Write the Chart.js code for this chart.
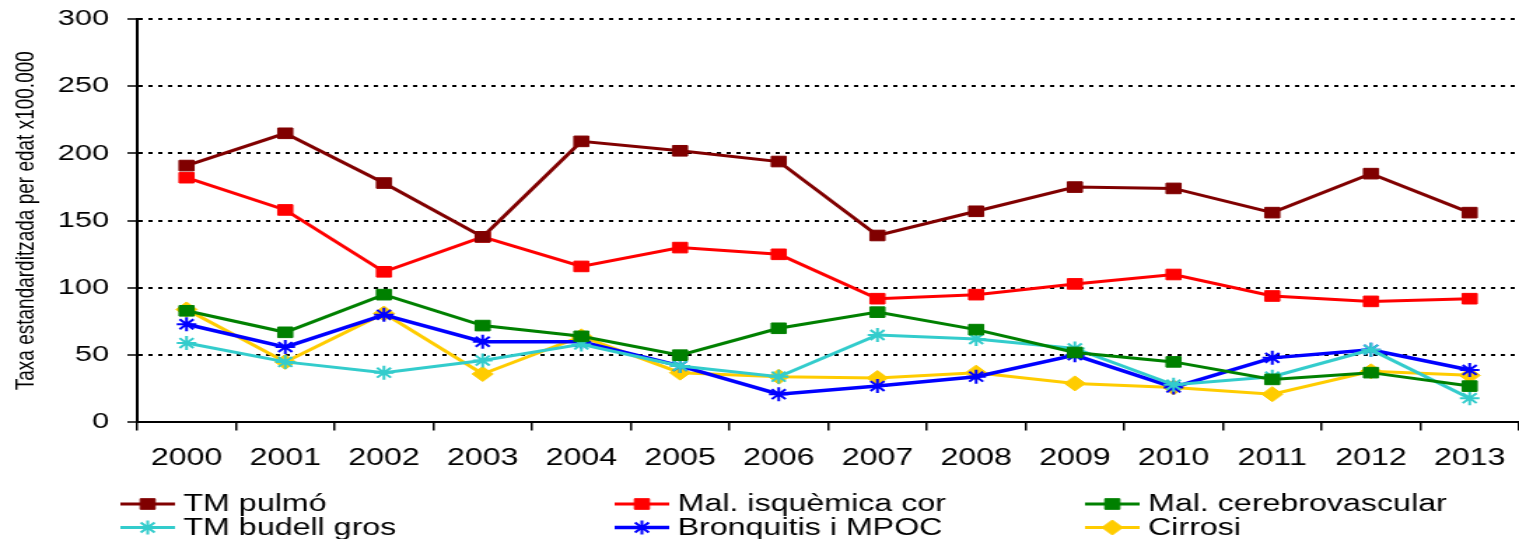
<!DOCTYPE html>
<html>
<head>
<meta charset="utf-8">
<script src="https://cdn.jsdelivr.net/npm/chart.js@4/dist/chart.umd.min.js"></script>
<style>
    html, body { margin: 0; padding: 0; background: #fff; overflow: hidden; }
    /* the chart is drawn narrow and stretched sideways, like the original export */
    #wrap { width: 1085px; height: 539px; transform: scaleX(1.4); transform-origin: 0 0; }
</style>
</head>
<body>
<div id="wrap"><canvas id="mortChart"></canvas></div>
<script>
// Anys
const years = ['2000', '2001', '2002', '2003', '2004', '2005', '2006', '2007', '2008', '2009', '2010', '2011', '2012', '2013'];

// Taxes estandarditzades per edat (x100.000)
const tmPulmo = [191, 215, 178, 138, 209, 202, 194, 139, 157, 175, 174, 156, 185, 156];
const malIsquemica = [182, 158, 112, 138, 116, 130, 125, 92, 95, 103, 110, 94, 90, 92];
const malCerebro = [83, 67, 95, 72, 64, 50, 70, 82, 69, 52, 45, 32, 37, 27];
const tmBudell = [59, 45, 37, 46, 58, 42, 34, 65, 62, 55, 28, 34, 54, 18];
const bronquitis = [73, 56, 80, 60, 60, 42, 21, 27, 34, 50, 26, 48, 54, 39];
const cirrosi = [84, 45, 81, 36, 64, 37, 34, 33, 37, 29, 26, 21, 38, 35];

const yTicks = [0, 50, 100, 150, 200, 250, 300];

const FONT = '"Liberation Sans", Arial, sans-serif';

function serie(label, data, color, style, radius, width) {
    return {
        label: label,
        data: data,
        borderColor: color,
        backgroundColor: color,
        borderWidth: width,
        pointStyle: style,
        pointRadius: radius,
        pointHoverRadius: radius,
        pointBackgroundColor: color,
        pointBorderColor: color,
        pointBorderWidth: style === 'star' ? 2 : 1,
        tension: 0,
        clip: false
    };
}

// Llegenda en graella de 3 columnes sota el gràfic
const legendCols = [86, 439, 775];
const legendRows = [504, 527.5];
const gridLegend = {
    id: 'gridLegend',
    afterDraw(chart) {
        const ctx = chart.ctx;
        ctx.save();
        chart.data.datasets.forEach((ds, i) => {
            const x = legendCols[i % 3];
            const y = legendRows[Math.floor(i / 3)];
            ctx.strokeStyle = ds.borderColor;
            ctx.lineWidth = ds.borderWidth;
            ctx.beginPath();
            ctx.moveTo(x, y);
            ctx.lineTo(x + 39, y);
            ctx.stroke();
            ctx.fillStyle = ds.pointBackgroundColor;
            ctx.strokeStyle = ds.pointBorderColor;
            ctx.lineWidth = ds.pointBorderWidth;
            if (Chart.helpers && Chart.helpers.drawPoint) {
                Chart.helpers.drawPoint(ctx, {
                    pointStyle: ds.pointStyle,
                    radius: ds.pointRadius,
                    borderWidth: ds.pointBorderWidth,
                    rotation: 0
                }, x + 19.5, y);
            } else {
                ctx.fillRect(x + 14, y - 5, 11, 11);
            }
            ctx.fillStyle = '#000';
            ctx.font = '23px ' + FONT;
            ctx.textBaseline = 'middle';
            ctx.textAlign = 'left';
            ctx.fillText(ds.label, x + 45, y + 1);
        });
        ctx.restore();
    }
};

const ctx = document.getElementById('mortChart').getContext('2d');
const mortChart = new Chart(ctx, {
    type: 'line',
    data: {
        labels: years,
        datasets: [
            serie('TM pulmó', tmPulmo, '#800000', 'rect', 7.5, 3),
            serie('Mal. isquèmica cor', malIsquemica, '#ff0000', 'rect', 7.5, 3),
            serie('Mal. cerebrovascular', malCerebro, '#008000', 'rect', 7.5, 3),
            serie('TM budell gros', tmBudell, '#33cccc', 'star', 7, 3),
            serie('Bronquitis i MPOC', bronquitis, '#0000ff', 'star', 7, 3.5),
            serie('Cirrosi', cirrosi, '#ffcc00', 'rectRot', 7.5, 3)
        ]
    },
    options: {
        responsive: true,
        maintainAspectRatio: false,
        animation: false,
        layout: {
            autoPadding: false,
            padding: { top: 19, left: 5, right: 0, bottom: 53 }
        },
        scales: {
            x: {
                offset: true,
                afterFit: (scale) => {
                    scale.paddingLeft = 0;
                    scale.paddingRight = 0;
                },
                grid: {
                    offset: true,
                    drawOnChartArea: false,
                    color: '#000',
                    lineWidth: 1.5,
                    tickLength: 8
                },
                border: { color: '#000', width: 2 },
                ticks: {
                    color: '#000',
                    padding: 14,
                    font: { family: FONT, size: 23 }
                }
            },
            y: {
                min: 0,
                max: 300,
                afterBuildTicks: (scale) => {
                    scale.ticks = yTicks.map(v => ({ value: v }));
                },
                afterFit: (scale) => {
                    scale.width = 93;
                    scale.paddingTop = 0;
                    scale.paddingBottom = 0;
                },
                grid: {
                    color: '#000',
                    lineWidth: 2,
                    tickLength: 7,
                    tickWidth: 1.5,
                    tickBorderDash: []
                },
                border: { color: '#000', width: 2, dash: [3, 4] },
                ticks: {
                    color: '#000',
                    padding: 13,
                    font: { family: FONT, size: 22 }
                },
                title: {
                    display: true,
                    text: 'Taxa estandarditzada per edat x100.000',
                    color: '#000',
                    font: { family: FONT, size: 19 },
                    padding: { top: 2, bottom: 0 }
                }
            }
        },
        plugins: {
            legend: { display: false },
            tooltip: { enabled: false }
        }
    },
    plugins: [gridLegend]
});
</script>
</body>
</html>
